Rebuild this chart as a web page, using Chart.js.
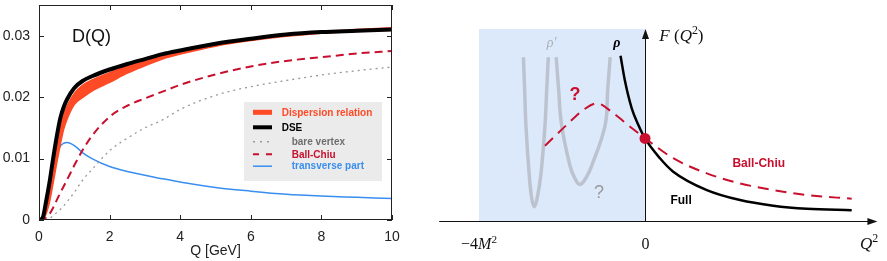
<!DOCTYPE html>
<html>
<head>
<meta charset="utf-8">
<script src="https://cdn.jsdelivr.net/npm/chart.js@4.4.1/dist/chart.umd.min.js"></script>
<style>
  html, body { margin: 0; background: #fff; overflow: hidden; }
  #gauche { position: absolute; left: 0; top: 0; width: 430px; height: 261px; }
  #droite { position: absolute; left: 430px; top: 0; width: 457px; height: 261px; }
</style>
</head>
<body>
<div id="gauche"><canvas id="graficoD"></canvas></div>
<div id="droite"><canvas id="graficoF"></canvas></div>
<script>
// ---- left panel: D(Q) ----
const qValues = [0, 0.1, 0.2, 0.3, 0.4, 0.5, 0.6, 0.7, 0.8, 1.0, 1.25, 1.5, 2, 2.5, 3, 3.5, 4, 5, 6, 7, 8, 9, 10];
const dse = [0, 0.0003, 0.0030, 0.0062, 0.0100, 0.0135, 0.0165, 0.0184, 0.0197, 0.0215, 0.0227, 0.0234, 0.0245, 0.0254, 0.0262, 0.0270, 0.0276, 0.0287, 0.0295, 0.0302, 0.0306, 0.0308, 0.0310];
const dispLow = [0, 0.0001, 0.0010, 0.0030, 0.0060, 0.0092, 0.0122, 0.0148, 0.0165, 0.0188, 0.0200, 0.0210, 0.0224, 0.0239, 0.0251, 0.0262, 0.0270, 0.0283, 0.0292, 0.0299, 0.0304, 0.0307, 0.0309];
const dispHigh = [0, 0.0002, 0.0020, 0.0048, 0.0085, 0.0120, 0.0150, 0.0172, 0.0186, 0.0206, 0.0220, 0.0228, 0.0240, 0.0251, 0.0260, 0.0268, 0.0275, 0.0287, 0.0296, 0.0303, 0.0307, 0.0310, 0.0313];
const ballChiu = [0, 0.0001, 0.0004, 0.0010, 0.0020, 0.0032, 0.0044, 0.0055, 0.0066, 0.0089, 0.0115, 0.0137, 0.0168, 0.0186, 0.0198, 0.0209, 0.0220, 0.0237, 0.0250, 0.0259, 0.0265, 0.0271, 0.0275];
const bareVertex = [0, 0, 0.0001, 0.0003, 0.0007, 0.0012, 0.0017, 0.0023, 0.0030, 0.0045, 0.0066, 0.0082, 0.0113, 0.0133, 0.0150, 0.0163, 0.0180, 0.0203, 0.0217, 0.0227, 0.0236, 0.0243, 0.0249];
const transverse = [0, 0.0003, 0.0020, 0.0052, 0.0081, 0.0106, 0.0120, 0.0125, 0.0126, 0.0121, 0.0109, 0.0100, 0.0087, 0.0079, 0.0073, 0.0067, 0.0062, 0.0053, 0.0047, 0.0042, 0.0039, 0.0037, 0.0035];
const xTicks = [0, 2, 4, 6, 8, 10];
const yTicks = [0, 0.01, 0.02, 0.03];

// ---- right panel: F(Q^2) sketch ----
const fullX = [-0.59, -0.48, -0.32, -0.16, 0, 0.36, 0.68, 1.49, 2.29, 3.09, 3.90, 4.98];
const fullY = [0.861, 0.726, 0.587, 0.50, 0.43, 0.327, 0.257, 0.161, 0.109, 0.080, 0.064, 0.056];
const bcX = [-2.41, -1.89, -1.49, -1.16, -0.76, -0.36, 0, 0.68, 1.49, 2.29, 3.09, 3.90, 4.98];
const bcY = [0.392, 0.50, 0.578, 0.613, 0.561, 0.491, 0.431, 0.327, 0.248, 0.196, 0.161, 0.135, 0.116];
const rho1X = [-2.93, -2.90, -2.87, -2.79, -2.73, -2.67, -2.60, -2.51, -2.41, -2.37, -2.33];
const rho1Y = [0.853, 0.68, 0.50, 0.24, 0.118, 0.074, 0.118, 0.24, 0.50, 0.68, 0.853];
const rho2X = [-2.14, -2.08, -2.01, -1.81, -1.69, -1.57, -1.43, -1.28, -0.96, -0.90, -0.84];
const rho2Y = [0.853, 0.68, 0.50, 0.29, 0.222, 0.19, 0.222, 0.29, 0.50, 0.68, 0.853];
const pointCommun = [0, 0.43];
const zoneX = [-4, 0];   // shaded timelike region
const zoneY = [0, 1.0];

const pts = (xs, ys) => xs.map((v, i) => ({ x: v, y: ys[i] }));

const rouge = '#c8102e';
const orange = '#ff4a26';
const bleu = '#3a8ef0';
const sans = '"Liberation Sans", Arial, sans-serif';

const sansPad = axis => { axis.paddingTop = 0; axis.paddingBottom = 0; axis.paddingLeft = 0; axis.paddingRight = 0; };

// frame, inward ticks, title and legend for the left chart
const cadrePlugin = {
  id: 'cadre',
  afterDatasetsDraw(chart) {
    const { ctx, chartArea: a, scales: { x, y } } = chart;
    ctx.save();
    ctx.strokeStyle = '#222';
    ctx.lineWidth = 1;
    ctx.strokeRect(a.left + 0.5, a.top + 0.5, a.width - 1, a.height - 1);
    ctx.beginPath();
    xTicks.forEach(v => {
      const px = Math.round(x.getPixelForValue(v)) + 0.5;
      ctx.moveTo(px, a.bottom); ctx.lineTo(px, a.bottom - 5);
      ctx.moveTo(px, a.top); ctx.lineTo(px, a.top + 5);
    });
    yTicks.forEach(v => {
      const py = Math.round(y.getPixelForValue(v)) + 0.5;
      ctx.moveTo(a.left, py); ctx.lineTo(a.left + 5, py);
      ctx.moveTo(a.right, py); ctx.lineTo(a.right - 5, py);
    });
    ctx.stroke();

    ctx.fillStyle = '#111';
    ctx.font = '18px ' + sans;
    ctx.textBaseline = 'middle';
    ctx.fillText('D(Q)', a.left + 33, a.top + 32);

    // axis title
    ctx.fillStyle = '#222';
    ctx.font = '14px ' + sans;
    ctx.textAlign = 'center';
    ctx.fillText('Q [GeV]', (a.left + a.right) / 2, a.bottom + 31);
    ctx.textAlign = 'left';

    // legend box
    const bx = a.left + 205, by = a.top + 97;
    ctx.fillStyle = '#ebebeb';
    ctx.fillRect(bx, by, 138, 79);
    const entrees = [
      { label: 'Dispersion relation', color: orange, text: orange, w: 5, dash: [], tx: 281.7, ty: 112.8 },
      { label: 'DSE', color: '#000', text: '#000', w: 4, dash: [], tx: 281.7, ty: 127.8 },
      { label: 'bare vertex', color: '#999', text: '#6e6e6e', w: 1.5, dash: [2, 5], tx: 291.7, ty: 142.3 },
      { label: 'Ball-Chiu', color: rouge, text: rouge, w: 2, dash: [6, 7], tx: 291.7, ty: 154.8 },
      { label: 'transverse part', color: bleu, text: bleu, w: 1.5, dash: [], tx: 291.7, ty: 166.7 }
    ];
    ctx.font = 'bold 10px ' + sans;
    entrees.forEach(e => {
      ctx.beginPath();
      ctx.setLineDash(e.dash);
      ctx.strokeStyle = e.color;
      ctx.lineWidth = e.w;
      ctx.moveTo(253, e.ty - 0.5);
      ctx.lineTo(272, e.ty - 0.5);
      ctx.stroke();
      ctx.setLineDash([]);
      ctx.fillStyle = e.text;
      ctx.fillText(e.label, e.tx, e.ty);
    });
    ctx.restore();
  }
};

new Chart(document.getElementById('graficoD'), {
  type: 'line',
  data: {
    datasets: [
      { label: 'DSE', data: pts(qValues, dse), borderColor: '#000', borderWidth: 4, order: 0 },
      { label: 'Dispersion relation (low)', data: pts(qValues, dispLow), borderColor: orange, borderWidth: 1.5, order: 1 },
      { label: 'Dispersion relation', data: pts(qValues, dispHigh), borderColor: orange, borderWidth: 1.5,
        backgroundColor: orange, fill: '-1', order: 1 },
      { label: 'Ball-Chiu', data: pts(qValues, ballChiu), borderColor: rouge, borderWidth: 2, borderDash: [8, 5], order: 2 },
      { label: 'bare vertex', data: pts(qValues, bareVertex), borderColor: '#999', borderWidth: 1.3, borderDash: [2, 4], order: 3 },
      { label: 'transverse part', data: pts(qValues, transverse), borderColor: bleu, borderWidth: 1.5, order: 4 }
    ]
  },
  options: {
    responsive: true,
    maintainAspectRatio: false,
    animation: false,
    layout: { autoPadding: false, padding: { top: 5, right: 38, left: 0, bottom: 0 } },
    elements: {
      point: { radius: 0 },
      line: { cubicInterpolationMode: 'monotone', fill: false }
    },
    plugins: { legend: { display: false }, tooltip: { enabled: false } },
    scales: {
      x: {
        type: 'linear', min: 0, max: 10,
        grid: { display: false, drawTicks: false },
        border: { display: false },
        afterBuildTicks: axis => { axis.ticks = xTicks.map(v => ({ value: v })); },
        afterFit: axis => { axis.height = 41; sansPad(axis); },
        ticks: { color: '#222', padding: 9, maxRotation: 0, font: { size: 14, family: sans } }
      },
      y: {
        min: 0, max: 0.035,
        grid: { display: false, drawTicks: false },
        border: { display: false },
        afterBuildTicks: axis => { axis.ticks = yTicks.map(v => ({ value: v })); },
        afterFit: axis => { axis.width = 39; sansPad(axis); },
        ticks: { color: '#222', padding: 9, font: { size: 14, family: sans },
                 callback: v => v === 0 ? '0' : v.toFixed(2) }
      }
    }
  },
  plugins: [cadrePlugin]
});

// math-like text runs: {t, it, sup}
function texte(ctx, runs, x, y, size, align) {
  const fontFor = r => (r.it ? 'italic ' : '') + (r.sup ? size * 0.7 : size) + 'px "Liberation Serif", "DejaVu Serif", serif';
  let total = 0;
  runs.forEach(r => { ctx.font = fontFor(r); total += ctx.measureText(r.t).width; });
  let cx = align === 'center' ? x - total / 2 : x;
  ctx.textAlign = 'left';
  ctx.textBaseline = 'alphabetic';
  runs.forEach(r => {
    ctx.font = fontFor(r);
    ctx.fillText(r.t, cx, r.sup ? y - size * 0.4 : y);
    cx += ctx.measureText(r.t).width;
  });
}

const etiquettes = [
  { text: 'ρ′', x: -2.25, y: 0.925, color: '#aab0b8', font: 'italic 14px "Liberation Serif", serif' },
  { text: 'ρ', x: -0.68, y: 0.925, color: '#000', font: 'italic bold 14px "Liberation Serif", serif' },
  { text: '?', x: -1.69, y: 0.656, color: rouge, font: 'bold 18px ' + sans },
  { text: '?', x: -1.11, y: 0.144, color: '#999', font: '18px ' + sans },
  { text: 'Ball-Chiu', x: 2.74, y: 0.297, color: rouge, font: 'bold 12px ' + sans },
  { text: 'Full', x: 0.87, y: 0.104, color: '#000', font: 'bold 12px ' + sans }
];

const schemaPlugin = {
  id: 'schema',
  beforeDatasetsDraw(chart) {
    const { ctx, scales: { x, y } } = chart;
    ctx.save();
    ctx.fillStyle = 'rgb(220,233,251)';
    const x0 = x.getPixelForValue(zoneX[0]), x1 = x.getPixelForValue(zoneX[1]);
    const y0 = y.getPixelForValue(zoneY[0]), y1 = y.getPixelForValue(zoneY[1]);
    ctx.fillRect(x0, y1, x1 - x0, y0 - y1);

    // axes with arrows
    const ox = Math.round(x.getPixelForValue(0)) + 0.5;
    const oy = Math.round(y.getPixelForValue(0)) + 0.5;
    const xa = x.getPixelForValue(-4.96), xb = x.getPixelForValue(5.6);
    const yb = y.getPixelForValue(1.0);
    ctx.strokeStyle = '#111';
    ctx.fillStyle = '#111';
    ctx.lineWidth = 1;
    ctx.beginPath();
    ctx.moveTo(xa, oy); ctx.lineTo(xb - 8, oy);
    ctx.moveTo(ox, oy); ctx.lineTo(ox, yb + 8);
    ctx.stroke();
    ctx.beginPath();
    ctx.moveTo(xb, oy); ctx.lineTo(xb - 10, oy - 3.5); ctx.lineTo(xb - 10, oy + 3.5); ctx.closePath();
    ctx.moveTo(ox, yb); ctx.lineTo(ox - 3.5, yb + 10); ctx.lineTo(ox + 3.5, yb + 10); ctx.closePath();
    ctx.fill();

    // axis labels
    const base = y.getPixelForValue(-0.115) + 6;
    texte(ctx, [{ t: '−4' }, { t: 'M', it: true }, { t: '2', sup: true }], x.getPixelForValue(-4), base, 16, 'center');
    texte(ctx, [{ t: '0' }], ox, base, 16, 'center');
    texte(ctx, [{ t: 'Q', it: true }, { t: '2', sup: true }], x.getPixelForValue(5.18), base, 17, 'left');
    texte(ctx, [{ t: 'F', it: true }, { t: ' (' }, { t: 'Q', it: true }, { t: '2', sup: true }, { t: ')' }],
          x.getPixelForValue(0.345), y.getPixelForValue(0.969) + 6, 17, 'left');
    ctx.restore();
  },
  afterDatasetsDraw(chart) {
    const { ctx, scales: { x, y } } = chart;
    ctx.save();
    ctx.textAlign = 'center';
    ctx.textBaseline = 'middle';
    etiquettes.forEach(e => {
      ctx.fillStyle = e.color;
      ctx.font = e.font;
      ctx.fillText(e.text, x.getPixelForValue(e.x), y.getPixelForValue(e.y));
    });
    ctx.restore();
  }
};

new Chart(document.getElementById('graficoF'), {
  type: 'scatter',
  data: {
    datasets: [
      { label: 'point', data: [{ x: pointCommun[0], y: pointCommun[1] }], pointRadius: 5.5,
        pointBackgroundColor: rouge, pointBorderWidth: 0, showLine: false, order: 0 },
      { label: 'Full', data: pts(fullX, fullY), borderColor: '#000', borderWidth: 2.5,
        cubicInterpolationMode: 'monotone', order: 1 },
      { label: 'Ball-Chiu', data: pts(bcX, bcY), borderColor: rouge, borderWidth: 2, borderDash: [11, 7],
        cubicInterpolationMode: 'monotone', order: 2 },
      { label: 'rho prime', data: pts(rho1X, rho1Y), borderColor: 'rgba(185,193,204,0.95)', borderWidth: 3.5,
        tension: 0.4, order: 3 },
      { label: 'rho', data: pts(rho2X, rho2Y), borderColor: 'rgba(185,193,204,0.95)', borderWidth: 3.5,
        tension: 0.4, order: 3 }
    ]
  },
  options: {
    responsive: true,
    maintainAspectRatio: false,
    animation: false,
    layout: { autoPadding: false, padding: 0 },
    showLine: true,
    elements: { point: { radius: 0 } },
    plugins: { legend: { display: false }, tooltip: { enabled: false } },
    scales: {
      x: { type: 'linear', display: false, min: -5.181, max: 5.831 },
      y: { type: 'linear', display: false, min: -0.2083, max: 1.151 }
    }
  },
  plugins: [schemaPlugin]
});
</script>
</body>
</html>
